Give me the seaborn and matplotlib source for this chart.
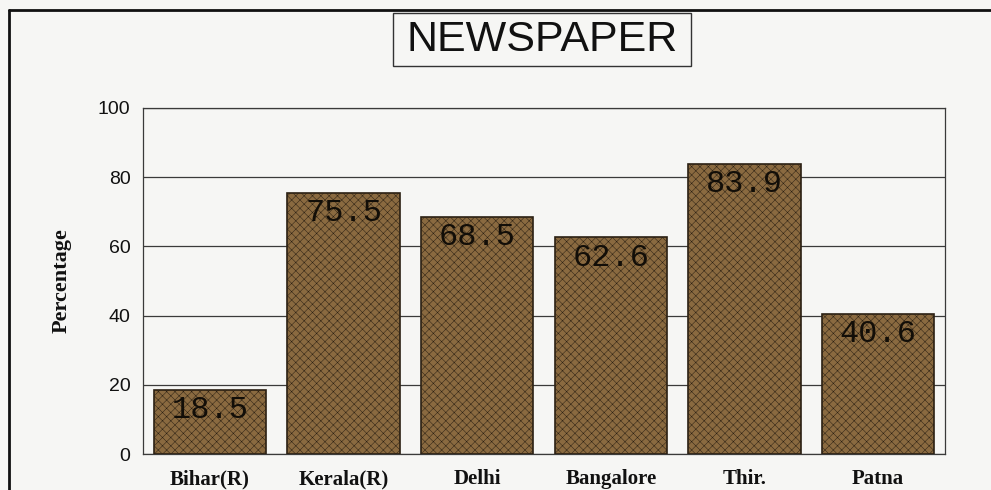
import matplotlib
matplotlib.use("Agg")
import matplotlib.pyplot as plt
import seaborn as sns
import pandas as pd
from matplotlib.lines import Line2D
from matplotlib.patches import Rectangle

categories = ["Bihar(R)", "Kerala(R)", "Delhi", "Bangalore", "Thir.", "Patna"]
values = [18.5, 75.5, 68.5, 62.6, 83.9, 40.6]
yticks = [0, 20, 40, 60, 80, 100]
title = "NEWSPAPER"
ylabel = "Percentage"

df = pd.DataFrame({"city": categories, "pct": values})

sns.set_theme(style="white")
plt.rcParams["hatch.linewidth"] = 0.35
paper = "#f6f6f4"
bar_color = "#8a6a40"
edge_color = "#2b2013"

W, H = 991, 490
fig = plt.figure(figsize=(W / 100, H / 100), dpi=100, facecolor=paper)
ax = fig.add_axes([143 / W, 36 / H, 802 / W, 346 / H])
ax.set_facecolor(paper)

sns.barplot(data=df, x="city", y="pct", order=categories, color=bar_color,
            width=0.84, edgecolor=edge_color, linewidth=1.2, saturation=1,
            zorder=3, ax=ax)
# woven fill texture on the bars
for patch in ax.patches:
    patch.set_hatch("xxxx")

ax.set_ylim(0, 100)
ax.set_xlim(-0.5, len(categories) - 0.5)
ax.set_yticks(yticks)
ax.yaxis.grid(True, color="#3a3a3a", linewidth=0.9, zorder=0)
ax.set_axisbelow(True)
for s in ax.spines.values():
    s.set_color("#3a3a3a")
    s.set_linewidth(0.9)

ax.tick_params(axis="y", length=0, pad=9, labelsize=14, labelcolor="#111111")
ax.tick_params(axis="x", length=0, pad=11)
for lbl in ax.get_yticklabels():
    lbl.set_fontfamily("Liberation Sans")
for lbl in ax.get_xticklabels():
    lbl.set_fontfamily("Liberation Serif")
    lbl.set_fontweight("bold")
    lbl.set_fontsize(15)
    lbl.set_color("#111111")

ax.set_xlabel("")
ax.set_ylabel(ylabel, fontfamily="Liberation Serif", fontweight="bold",
              fontsize=16, color="#111111")
ax.yaxis.set_label_coords(-0.0885, 0.5)

# value labels inside the top of each bar
for patch, v in zip(ax.patches, values):
    cx = patch.get_x() + patch.get_width() / 2
    ax.annotate(f"{v:.1f}", xy=(cx, v), xytext=(0, -14.5),
                textcoords="offset points", ha="center", va="center",
                fontfamily="Liberation Mono", fontsize=23, color="#120e08",
                zorder=4)

# boxed title
fig.add_artist(Rectangle((393 / W, 1 - 66 / H), 298 / W, 53 / H,
                         transform=fig.transFigure, facecolor=paper,
                         edgecolor="#333333", linewidth=1.0))
fig.text(542 / W, 1 - 40 / H, title, ha="center", va="center",
         fontfamily="Liberation Sans", fontsize=31, color="#111111")

# outer frame (top and left edges)
fig.add_artist(Line2D([9 / W, 1.0], [1 - 10 / H, 1 - 10 / H],
                      transform=fig.transFigure, color="#111111", linewidth=2.0))
fig.add_artist(Line2D([9 / W, 9 / W], [0.0, 1 - 10 / H],
                      transform=fig.transFigure, color="#111111", linewidth=2.0))

fig.savefig("out.png", dpi=100, facecolor=paper)
